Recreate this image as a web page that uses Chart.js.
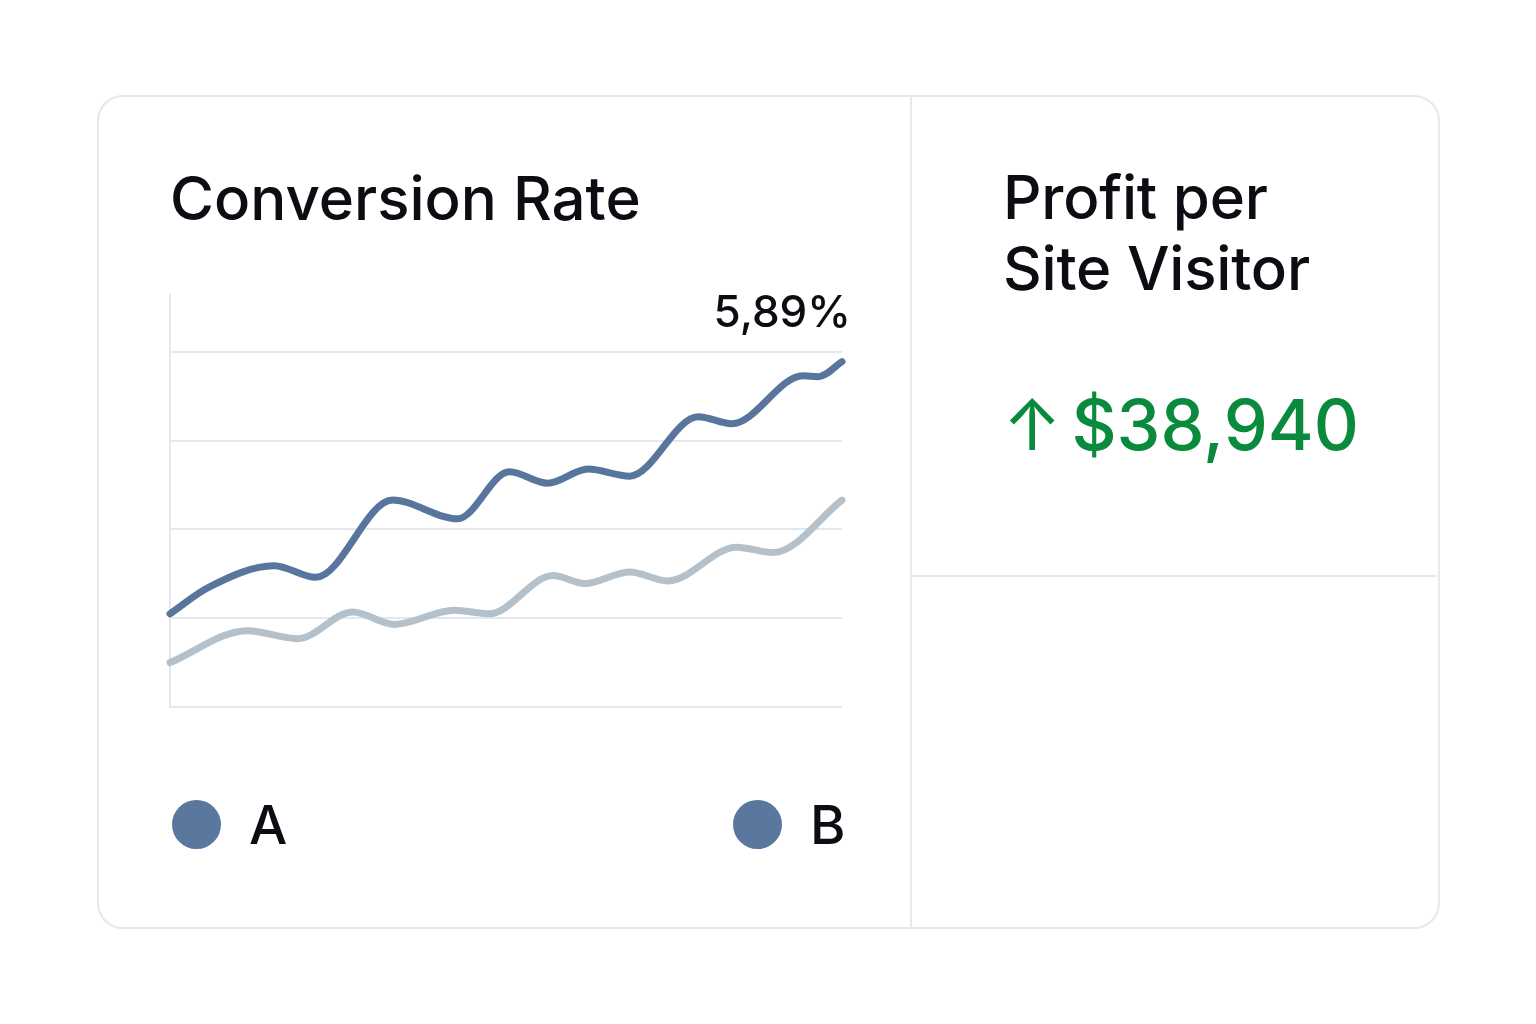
<!DOCTYPE html>
<html>
<head>
<meta charset="utf-8">
<script src="https://cdn.jsdelivr.net/npm/chart.js@4"></script>
<style>
  html, body { margin: 0; padding: 0; background: #fff; }
  body { width: 1536px; height: 1024px; position: relative; overflow: hidden; font-family: Inter, "Noto Sans", sans-serif; color: #0b0d12; }
  .card { position: absolute; left: 97px; top: 95px; width: 1339px; height: 830px; border: 2px solid #e4e8ef; border-radius: 26px; box-sizing: content-box; }
  .vdiv { position: absolute; left: 910px; top: 97px; width: 2px; height: 830px; background: #e4e8ef; }
  .hdiv { position: absolute; left: 912px; top: 575px; width: 525px; height: 2px; background: #e4e8ef; }
  .title { position: absolute; left: 170px; top: 162px; font-size: 60px; font-weight: 500; line-height: 72px; letter-spacing: 0px; }
  .title2 { position: absolute; left: 1003px; top: 162px; font-size: 60px; font-weight: 500; line-height: 71px; letter-spacing: -0.2px; }
  .value { position: absolute; left: 1003px; top: 381px; font-size: 70px; font-weight: 500; color: #0a8a3c; line-height: 88px; white-space: nowrap; }
  .value .arrow { font-weight: 400; margin-right: 10px; }
  #wrap { position: absolute; left: 160px; top: 285px; width: 700px; height: 430px; }
  .legend { position: absolute; top: 799px; height: 50px; display: flex; align-items: center; font-size: 54px; font-weight: 500; }
  .legend .dot { width: 49px; height: 49px; border-radius: 50%; background: #5a779d; margin-right: 28px; }
</style>
</head>
<body>
<div class="card"></div>
<div class="vdiv"></div>
<div class="hdiv"></div>
<div class="title">Conversion Rate</div>
<div class="title2">Profit per<br>Site Visitor</div>
<div class="value" id="profit"></div>
<div id="wrap"><canvas id="chart"></canvas></div>
<div class="legend" id="legA" style="left:172px"></div>
<div class="legend" id="legB" style="left:733px"></div>
<script>
// position in period (0-100) and conversion rate (%)
const xA = [0, 5.8, 15.5, 21.7, 33.1, 42.8, 50.5, 56.2, 62.2, 68.4, 78.6, 83.6, 94.2, 96.5, 100];
const rateA = [3.05, 3.35, 3.59, 3.46, 4.33, 4.12, 4.65, 4.52, 4.68, 4.60, 5.27, 5.19, 5.73, 5.72, 5.89];
const xB = [0, 11.5, 19.0, 27.2, 33.4, 42.3, 47.5, 57.0, 61.7, 68.4, 74.1, 84.3, 89.8, 100];
const rateB = [2.50, 2.86, 2.77, 3.07, 2.93, 3.09, 3.05, 3.48, 3.39, 3.52, 3.42, 3.80, 3.74, 4.33];
const yTicks = [2, 3, 4, 5, 6];
const seriesNames = ["A", "B"];
const profitPerVisitor = 38940;

const gridColor = "#e3e7ef";

document.getElementById("profit").innerHTML =
  '<span class="arrow">\u2191</span>$' + profitPerVisitor.toLocaleString("en-US");
document.getElementById("legA").innerHTML = '<span class="dot"></span>' + seriesNames[0];
document.getElementById("legB").innerHTML = '<span class="dot"></span>' + seriesNames[1];

const lastLabel = {
  id: "lastLabel",
  afterDraw(chart) {
    const { ctx, chartArea, scales } = chart;
    const last = rateA[rateA.length - 1];
    ctx.save();
    ctx.font = "500 44px Inter, 'Noto Sans', sans-serif";
    ctx.fillStyle = "#0b0d12";
    ctx.textAlign = "right";
    ctx.textBaseline = "alphabetic";
    ctx.fillText(last.toFixed(2).replace(".", ",") + "%", chartArea.right + 9, scales.y.getPixelForValue(6) - 25);
    ctx.restore();
  }
};

new Chart(document.getElementById("chart"), {
  type: "line",
  data: {
    datasets: [
      {
        label: seriesNames[1],
        data: xB.map((x, i) => ({ x, y: rateB[i] })),
        borderColor: "#b4c1cb",
        borderWidth: 7
      },
      {
        label: seriesNames[0],
        data: xA.map((x, i) => ({ x, y: rateA[i] })),
        borderColor: "#58769d",
        borderWidth: 7
      }
    ]
  },
  options: {
    responsive: true,
    maintainAspectRatio: false,
    animation: false,
    layout: { padding: { left: 10, right: 18, top: 10, bottom: 8 } },
    elements: {
      point: { radius: 0, hoverRadius: 0 },
      line: { cubicInterpolationMode: "monotone", borderCapStyle: "round", borderJoinStyle: "round" }
    },
    clip: false,
    plugins: { legend: { display: false }, tooltip: { enabled: false } },
    scales: {
      x: { type: "linear", min: 0, max: 100, display: false },
      y: {
        min: 2,
        max: 6.64,
        afterBuildTicks: scale => { scale.ticks = yTicks.map(v => ({ value: v })); },
        ticks: { display: false },
        grid: { color: gridColor, lineWidth: 2, drawTicks: false },
        border: { display: true, color: gridColor, width: 2 }
      }
    }
  },
  plugins: [lastLabel]
});
</script>
</body>
</html>
